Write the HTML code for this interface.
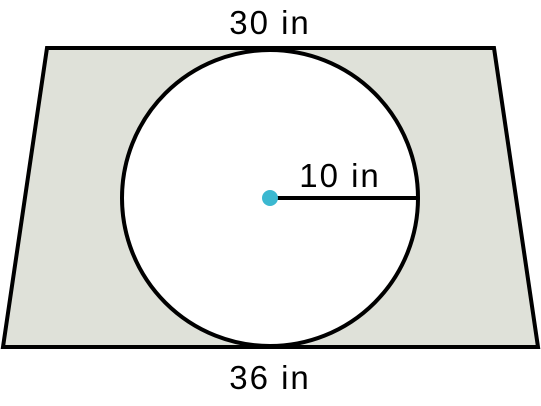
<!DOCTYPE html>
<html>
<head>
<meta charset="utf-8">
<style>
  html, body { margin: 0; padding: 0; background: #ffffff; }
  svg { display: block; }
  text { font-family: "Liberation Sans", "DejaVu Sans", sans-serif; fill: #000; letter-spacing: 2px; }
</style>
</head>
<body>
<svg width="541" height="406" viewBox="0 0 541 406">
  <polygon
    points="47,48 494,48 538,347 3,347"
    fill="#dfe1d9" stroke="#000" stroke-width="4" stroke-linejoin="miter"/>
  <circle
    cx="270" cy="198" r="148" fill="#ffffff" stroke="#000" stroke-width="4"/>
  <line
    x1="270" y1="198" x2="418" y2="198" stroke="#000" stroke-width="4"/>
  <circle
    cx="270" cy="198" r="8" fill="#3bb8d0"/>
  <text
    x="270" y="34" font-size="33" text-anchor="middle">30 in</text>
  <text
    x="340" y="187" font-size="33" text-anchor="middle">10 in</text>
  <text
    x="270" y="389" font-size="33" text-anchor="middle">36 in</text>
</svg>
</body>
</html>
